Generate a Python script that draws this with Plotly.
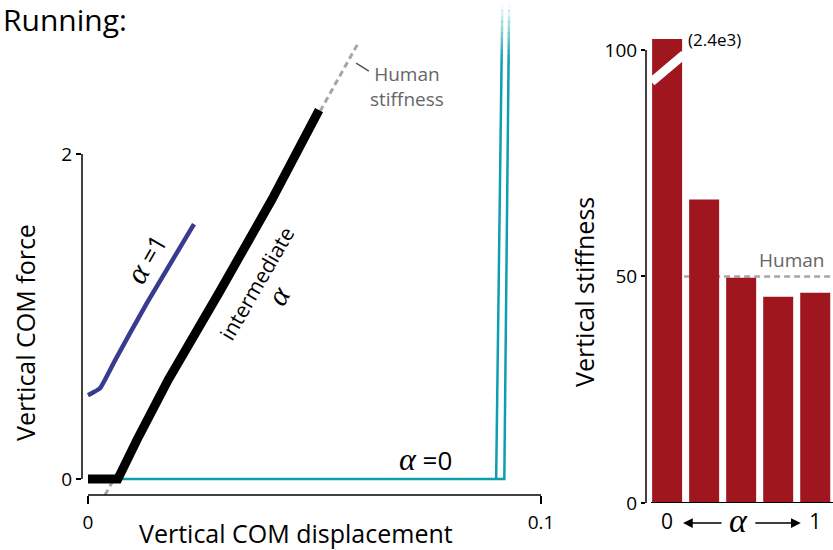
import plotly.graph_objects as go

W, H = 833, 550
FONT = "Open Sans"

# ---- force-displacement curves (displacement, force) ----
disp_mid = [0.0, 0.0066, 0.0108, 0.0177, 0.029, 0.0406, 0.051]
force_mid = [0.0, 0.0, 0.24, 0.61, 1.15, 1.72, 2.27]

disp_a1 = [0.0, 0.0027, 0.006, 0.013, 0.0234]
force_a1 = [0.515, 0.56, 0.732, 1.083, 1.569]

disp_a0 = [0.0066, 0.0901, 0.0915, 0.0930, 0.0919, 0.0901]
force_a0 = [0.0, 0.0, 3.0, 3.0, 0.0, 0.0]

human_disp = [0.00375, 0.0598]
human_force = [-0.0985, 2.69]

x_ticks = [0, 0.1]
x_ticktext = ["0", "0.1"]
y_ticks = [0, 2]

# ---- vertical stiffness per alpha ----
alpha_pos = [0, 1, 2, 3, 4]
stiffness = [2400, 67, 49.7, 45.5, 46.4]
human_k = 50
bar_ticks = [0, 4]
bar_ticktext = ["0", "1"]
stiff_ticks = [0, 50, 100]

RED = "#A0161E"
TEAL = "#0E9FAE"
BLUE = "#393B8E"
GREY = "#A6A6A6"


def px_x(p):
    return p / W


def px_y(p):
    return 1 - p / H


def alpha(size):
    return ("<span style='font-family:Liberation Serif;font-size:%dpx'>"
            "<i>α</i></span>" % size)


fig = go.Figure()

fig.add_trace(go.Scatter(x=human_disp, y=human_force, mode="lines",
                         line=dict(color=GREY, width=3, dash="6px,4px"),
                         hoverinfo="skip"))
fig.add_trace(go.Scatter(x=disp_a0, y=force_a0, mode="lines",
                         line=dict(color=TEAL, width=2.5), hoverinfo="skip"))
fig.add_trace(go.Scatter(x=disp_a1, y=force_a1, mode="lines",
                         line=dict(color=BLUE, width=4.5, shape="spline",
                                   smoothing=0.4), hoverinfo="skip"))
fig.add_trace(go.Scatter(x=disp_mid, y=force_mid, mode="lines",
                         line=dict(color="black", width=9), hoverinfo="skip"))

fig.add_trace(go.Bar(x=alpha_pos, y=stiffness, width=0.81,
                     marker=dict(color=RED, line=dict(width=0)),
                     xaxis="x2", yaxis="y2", hoverinfo="skip"))

tickfont = dict(family=FONT, size=19, color="black")
common = dict(showline=False, showgrid=False, zeroline=False,
              automargin=False, tickcolor="black", tickwidth=1.5)

fig.update_layout(
    template="none",
    width=W, height=H,
    margin=dict(l=0, r=0, t=0, b=0, pad=0),
    paper_bgcolor="white", plot_bgcolor="white",
    font=dict(family=FONT, color="black"),
    showlegend=False,
    xaxis=dict(domain=[px_x(82), px_x(541)], range=[-0.00132, 0.1],
               tickvals=x_ticks, ticktext=x_ticktext, ticks="outside",
               ticklen=8, tickfont=tickfont, ticklabelstandoff=2, **common),
    yaxis=dict(domain=[px_y(495), 1], range=[-0.0985, 2.948],
               tickvals=y_ticks, ticks="outside", ticklen=5,
               tickfont=tickfont, **common),
    xaxis2=dict(domain=[px_x(646), 1], range=[-0.57, 4.48], anchor="y2",
                tickvals=bar_ticks, ticktext=bar_ticktext, ticks="",
                tickfont=dict(family=FONT, size=21, color="black"),
                ticklabelstandoff=4, **common),
    yaxis2=dict(domain=[px_y(503), px_y(39)], range=[0, 102.4], anchor="x2",
                tickvals=stiff_ticks, ticks="outside", ticklen=4,
                tickfont=tickfont, **common),
)

shapes = [
    # detached spines of the force-displacement panel
    dict(type="line", xref="x", yref="paper", x0=0, x1=0.1,
         y0=px_y(495), y1=px_y(495), line=dict(color="black", width=1.5)),
    dict(type="line", xref="paper", yref="y", x0=px_x(82), x1=px_x(82),
         y0=0, y1=2, line=dict(color="black", width=1.5)),
    # leader for the human stiffness label
    dict(type="line", xref="x", yref="y", x0=0.0592, y0=2.56, x1=0.0620,
         y1=2.51, line=dict(color="#555555", width=1.5)),
    # stiffness panel spines
    dict(type="line", xref="paper", yref="y2", x0=px_x(646), x1=px_x(646),
         y0=0, y1=100, line=dict(color="black", width=1.5)),
    dict(type="line", xref="paper", yref="y2", x0=px_x(651), x1=1,
         y0=0, y1=0, line=dict(color="black", width=2)),
    # human reference stiffness
    dict(type="line", xref="x2", yref="y2", x0=0.46, x1=4.5,
         y0=human_k, y1=human_k,
         line=dict(color=GREY, width=2.5, dash="6px,4px"), layer="below"),
    # axis break on the first bar
    dict(type="line", xref="x2", yref="y2", x0=-0.42, y0=92.95, x1=0.46,
         y1=99.0, line=dict(color="white", width=9), layer="above"),
]

# fade-out of the alpha=0 curve at the top edge
shapes.append(dict(type="rect", xref="paper", yref="paper",
                   x0=px_x(486), x1=px_x(516), y0=px_y(5), y1=1,
                   fillcolor="white", line=dict(width=0), layer="above"))
n_fade = 10
for i in range(n_fade):
    top = 5 + 5.5 * i
    shapes.append(dict(type="rect", xref="paper", yref="paper",
                       x0=px_x(486), x1=px_x(516),
                       y0=px_y(top + 5.5), y1=px_y(top),
                       fillcolor="white", opacity=1 - (i + 0.5) / n_fade,
                       line=dict(width=0), layer="above"))

fig.update_layout(shapes=shapes)

ann = [
    dict(text="Running:", xref="paper", yref="paper", x=0, y=1,
         xanchor="left", yanchor="top", yshift=3, xshift=1,
         font=dict(family=FONT, size=30)),
    dict(text="Vertical COM force", xref="paper", yref="paper",
         x=px_x(25), y=px_y(333), textangle=-90,
         font=dict(family=FONT, size=25)),
    dict(text="Vertical COM displacement", xref="paper", yref="paper",
         x=px_x(296), y=px_y(533), font=dict(family=FONT, size=25)),
    dict(text="Vertical stiffness", xref="paper", yref="paper",
         x=px_x(584), y=px_y(292), textangle=-90,
         font=dict(family=FONT, size=25)),
    dict(text=alpha(31) + " =1", xref="x", yref="y", x=0.0128, y=1.36,
         textangle=-60, font=dict(family=FONT, size=25)),
    dict(text="intermediate<br>" + alpha(30), xref="x", yref="y", x=0.0397,
         y=1.163, textangle=-60, font=dict(family=FONT, size=21)),
    dict(text=alpha(32) + " =0", xref="x", yref="y", x=0.0744, y=0.123,
         font=dict(family=FONT, size=26)),
    dict(text="Human<br>stiffness", xref="x", yref="y", x=0.0704, y=2.418,
         font=dict(family=FONT, size=19, color="#666666")),
    dict(text="(2.4e3)", xref="x2", yref="y2", x=0.52, y=102.4,
         xanchor="left", yanchor="middle",
         font=dict(family=FONT, size=17)),
    dict(text="Human", xref="x2", yref="y2", x=3.37, y=53.6,
         font=dict(family=FONT, size=19, color="#666666")),
    dict(text=alpha(34), xref="x2", yref="paper", x=1.92, y=px_y(520),
         font=dict(family=FONT, size=24)),
    dict(text="", xref="x2", yref="paper", x=0.43, y=px_y(523),
         ax=40, ay=0, axref="pixel", ayref="pixel", showarrow=True,
         arrowhead=2, arrowsize=1.3, arrowwidth=1.5, arrowcolor="black"),
    dict(text="", xref="x2", yref="paper", x=3.61, y=px_y(523),
         ax=-47, ay=0, axref="pixel", ayref="pixel", showarrow=True,
         arrowhead=2, arrowsize=1.3, arrowwidth=1.5, arrowcolor="black"),
]
for a in ann:
    a.setdefault("showarrow", False)
    a.setdefault("xanchor", "center")
    a.setdefault("yanchor", "middle")
fig.update_layout(annotations=ann)

fig.write_html("out.html")
